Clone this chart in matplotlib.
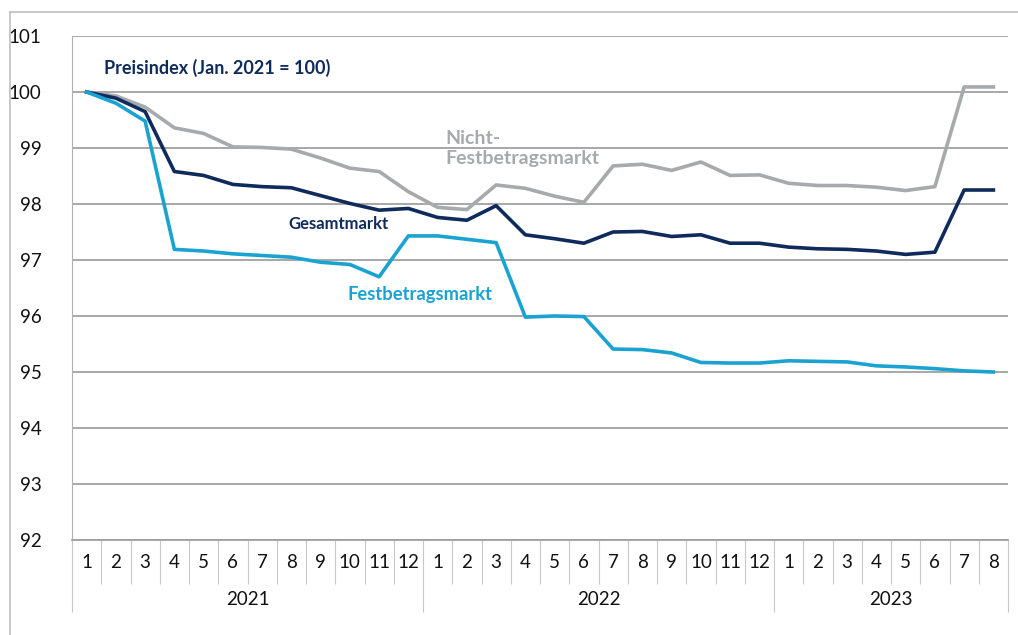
import matplotlib
matplotlib.use("Agg")
import matplotlib.pyplot as plt
from matplotlib.lines import Line2D

plt.rcParams['font.family'] = ['Lato', 'DejaVu Sans']

months = [1, 2, 3, 4, 5, 6, 7, 8, 9, 10, 11, 12,
          1, 2, 3, 4, 5, 6, 7, 8, 9, 10, 11, 12,
          1, 2, 3, 4, 5, 6, 7, 8]
years = ["2021", "2022", "2023"]
months_per_year = [12, 12, 8]

gesamt = [100.0, 99.89, 99.65, 98.58, 98.51, 98.35, 98.31, 98.29, 98.15, 98.01, 97.89, 97.92,
          97.76, 97.71, 97.97, 97.45, 97.38, 97.30, 97.50, 97.51, 97.42, 97.45, 97.30, 97.30,
          97.23, 97.20, 97.19, 97.16, 97.10, 97.14, 98.25, 98.25]
festbetrag = [100.0, 99.80, 99.48, 97.19, 97.16, 97.11, 97.08, 97.05, 96.96, 96.92, 96.70, 97.43,
              97.43, 97.37, 97.31, 95.98, 96.00, 95.99, 95.41, 95.40, 95.34, 95.17, 95.16, 95.16,
              95.20, 95.19, 95.18, 95.11, 95.09, 95.06, 95.02, 95.00]
nicht_festbetrag = [100.0, 99.93, 99.73, 99.36, 99.26, 99.02, 99.01, 98.98, 98.82, 98.64, 98.58, 98.22,
                    97.94, 97.90, 98.34, 98.28, 98.14, 98.03, 98.68, 98.71, 98.60, 98.75, 98.51, 98.52,
                    98.37, 98.33, 98.33, 98.30, 98.24, 98.31, 100.09, 100.09]

navy = "#0e2b5c"
light_blue = "#1aa3d0"
grey = "#a7aaad"
grid_col = "#a0a0a0"

fig = plt.figure(figsize=(10.18, 6.35), dpi=100)
ax = fig.add_axes([72/1018, 1 - 540/635, 936/1018, 504/635])

x = [i + 0.5 for i in range(len(months))]
ax.plot(x, nicht_festbetrag, color=grey, lw=2.6, solid_joinstyle="round", zorder=3)
ax.plot(x, gesamt, color=navy, lw=2.6, solid_joinstyle="round", zorder=4)
ax.plot(x, festbetrag, color=light_blue, lw=2.6, solid_joinstyle="round", zorder=5)

ax.set_xlim(0, len(months))
ax.set_ylim(92, 101)
ax.set_yticks(range(92, 102))
ax.grid(axis="y", color=grid_col, lw=1.3)
ax.set_axisbelow(True)
for s in ["top", "right"]:
    ax.spines[s].set_visible(False)
ax.spines["left"].set_color("#b0b0b0")
ax.spines["bottom"].set_color(grid_col)
ax.spines["bottom"].set_linewidth(1.3)
ax.tick_params(axis="y", length=0, pad=22, labelsize=13.5, labelcolor="#111111")

# two-level category axis: month separators (minor) and year separators (major)
bounds = [0]
for n in months_per_year:
    bounds.append(bounds[-1] + n)
ax.set_xticks(bounds)
ax.set_xticklabels([])
ax.set_xticks(range(len(months) + 1), minor=True)
ax.tick_params(axis="x", which="major", length=52, width=0.8, color="#c8c8c8", direction="out")
ax.tick_params(axis="x", which="minor", length=32, width=0.8, color="#c8c8c8", direction="out")

trans = ax.get_xaxis_transform()
for xi, m in zip(x, months):
    ax.text(xi, -0.045, str(m), transform=trans, ha="center", va="center",
            fontsize=13.5, color="#111111")
for i, yr in enumerate(years):
    ax.text((bounds[i] + bounds[i + 1]) / 2, -0.119, yr, transform=trans,
            ha="center", va="center", fontsize=13.5, color="#111111")

# series labels
ax.text(1.1, 100.43, "Preisindex (Jan. 2021 = 100)", fontsize=13, fontweight="bold",
        color=navy, ha="left", va="center")
ax.text(9.1, 97.65, "Gesamtmarkt", fontsize=12, fontweight="bold", color=navy,
        ha="center", va="center")
ax.text(11.9, 96.38, "Festbetragsmarkt", fontsize=13.2, fontweight="bold", color=light_blue,
        ha="center", va="center")
ax.text(12.75, 98.99, "Nicht-\nFestbetragsmarkt", fontsize=14, fontweight="bold", color=grey,
        ha="left", va="center", linespacing=1.2)

# outer frame of the chart object
fig.add_artist(Line2D([10/1018, 10/1018], [0, 1 - 12/635], color="#c0c0c0", lw=1.2))
fig.add_artist(Line2D([10/1018, 1], [1 - 12/635, 1 - 12/635], color="#c0c0c0", lw=1.2))

fig.savefig("out.png", dpi=100)
